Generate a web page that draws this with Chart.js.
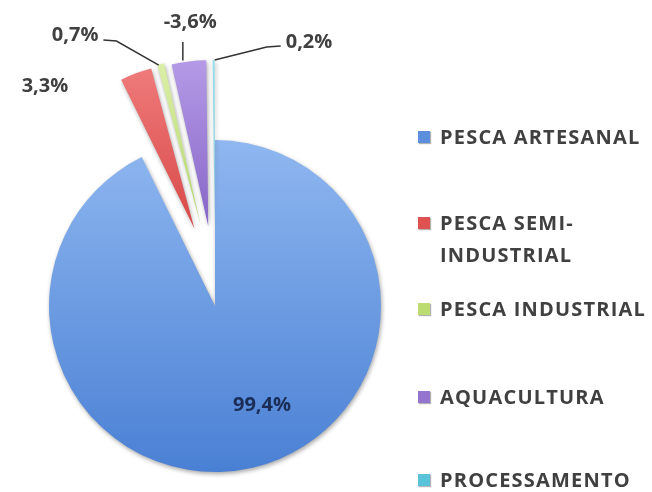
<!DOCTYPE html>
<html><head><meta charset="utf-8">
<script src="https://cdn.jsdelivr.net/npm/chart.js@4.4.1/dist/chart.umd.min.js"></script>
<style>
html,body{margin:0;padding:0;background:#fff;}
#wrap{position:relative;width:652px;height:492px;overflow:hidden;}
#c{position:absolute;left:0;top:0;}
#legend{position:absolute;left:418px;top:0;width:234px;font-family:'Open Sans',sans-serif;font-weight:bold;font-size:20px;color:#404040;}
.item{position:absolute;left:0;width:234px;}
.sw{position:absolute;left:0;width:12px;height:12px;box-shadow:1px 1px 1px rgba(0,0,0,0.3);}
.tx{position:absolute;left:22px;width:212px;line-height:32px;}
</style></head>
<body><div id="wrap"><canvas id="c" width="652" height="492"></canvas><div id="legend"></div></div>
<script>
const categories = ['PESCA ARTESANAL','PESCA SEMI-INDUSTRIAL','PESCA INDUSTRIAL','AQUACULTURA','PROCESSAMENTO'];
const shares = [99.4, 3.3, 0.7, -3.6, 0.2];
const explodeDistance = [0, 80, 82, 80, 80];
const sliceLight = ['#8fb7f0','#f07c7c','#dcf0a8','#b49ae6','#9ae0ee'];
const sliceDark = ['#4a80d4','#d84848','#b3d46c','#8766c8','#4fb8d2'];
const legendColors = ['#5b8fde','#e05252','#bcdc72','#9474cf','#5ac3da'];

const R = 166;
const EXPLODE_TURN = 0.72;

function fillFor(c) {
  const chart = c.chart, ca = chart.chartArea, i = c.dataIndex;
  if (!ca) return sliceDark[i];
  const cy = (ca.top + ca.bottom) / 2;
  const g = i === 0
    ? chart.ctx.createLinearGradient(0, cy - R, 0, cy + R)
    : chart.ctx.createLinearGradient(0, cy - R, 0, cy);
  g.addColorStop(0, sliceLight[i]);
  g.addColorStop(1, sliceDark[i]);
  return g;
}

function explodeVector(arc, i) {
  const mid = (arc.startAngle + arc.endAngle) / 2;
  let rel = mid + Math.PI / 2;
  while (rel > Math.PI) rel -= 2 * Math.PI;
  const dir = -Math.PI / 2 + rel * EXPLODE_TURN;
  const d = explodeDistance[i];
  return {dx: Math.cos(dir) * d, dy: Math.sin(dir) * d, mid};
}

const explodePlugin = {
  id: 'explode',
  beforeDatasetDraw(chart, args) {
    const ctx = chart.ctx;
    args.meta.data.forEach((arc, i) => {
      const v = explodeVector(arc, i);
      ctx.save();
      ctx.shadowColor = 'rgba(0,0,0,0.35)';
      ctx.shadowBlur = 4;
      ctx.shadowOffsetX = 1;
      ctx.shadowOffsetY = 2;
      ctx.translate(v.dx, v.dy);
      arc.draw(ctx);
      ctx.restore();
    });
    return false;
  }
};

// label anchors: angle from top (deg, clockwise) and distance as fraction of radius
const labelPlace = [[154.6, 0.66], [-37.7, 1.675], [-27.3, 1.837], [-5.0, 1.717], [19.6, 1.688]];

function fmt(v) { return v.toFixed(1).replace('.', ',') + '%'; }

const labelPlugin = {
  id: 'sliceLabels',
  afterDatasetsDraw(chart) {
    const ctx = chart.ctx;
    const meta = chart.getDatasetMeta(0);
    const cx = meta.data[0].x, cy = meta.data[0].y;
    const pos = labelPlace.map(([a, f]) => {
      const t = a * Math.PI / 180;
      return {x: cx + Math.sin(t) * f * R, y: cy - Math.cos(t) * f * R};
    });
    const outer = meta.data.map((arc, i) => {
      const v = explodeVector(arc, i);
      return {x: arc.x + v.dx + Math.cos(v.mid) * arc.outerRadius, y: arc.y + v.dy + Math.sin(v.mid) * arc.outerRadius};
    });
    ctx.save();
    ctx.font = 'bold 20px "Open Sans", sans-serif';
    ctx.textAlign = 'center';
    ctx.textBaseline = 'middle';
    shares.forEach((v, i) => {
      ctx.fillStyle = i === 0 ? '#1b2d57' : '#404040';
      ctx.fillText(fmt(v), pos[i].x, pos[i].y);
    });
    ctx.strokeStyle = '#333';
    ctx.lineWidth = 1.5;
    const w2 = ctx.measureText(fmt(shares[2])).width / 2;
    ctx.beginPath();
    ctx.moveTo(pos[2].x + w2 + 5, pos[2].y + 5);
    ctx.lineTo(pos[2].x + w2 + 18, pos[2].y + 6);
    ctx.lineTo(outer[2].x - 2, outer[2].y + 1);
    ctx.stroke();
    ctx.beginPath();
    ctx.moveTo(outer[3].x - 6, pos[3].y + 20);
    ctx.lineTo(outer[3].x - 6, outer[3].y - 1);
    ctx.stroke();
    const w4 = ctx.measureText(fmt(shares[4])).width / 2;
    ctx.beginPath();
    ctx.moveTo(pos[4].x - w4 - 5, pos[4].y + 4);
    ctx.lineTo(pos[4].x - w4 - 19, pos[4].y + 5);
    ctx.lineTo(outer[4].x + 1, outer[4].y);
    ctx.stroke();
    ctx.restore();
  }
};

new Chart(document.getElementById('c'), {
  type: 'pie',
  data: {
    labels: categories,
    datasets: [{
      data: shares,
      backgroundColor: fillFor,
      borderWidth: 0
    }]
  },
  options: {
    responsive: false,
    animation: false,
    radius: R,
    layout: {padding: {left: 0, right: 222, top: 120, bottom: 0}},
    plugins: {legend: {display: false}, tooltip: {enabled: false}}
  },
  plugins: [explodePlugin, labelPlugin]
});

// legend (first-line centres)
const legendCentres = [137, 223, 309, 397, 480];
const lg = document.getElementById('legend');
const mctx = document.createElement('canvas').getContext('2d');
mctx.font = 'bold 20px "Open Sans"';
const baseW = mctx.measureText('PESCA ARTESANAL').width;
const spacing = Math.min(1.2, Math.max(0, (201 - baseW) / 15));
categories.forEach((name, i) => {
  const it = document.createElement('div');
  it.className = 'item';
  it.style.top = (legendCentres[i] - 16) + 'px';
  const sw = document.createElement('div');
  sw.className = 'sw';
  sw.style.background = legendColors[i];
  sw.style.top = '10px';
  const tx = document.createElement('div');
  tx.className = 'tx';
  tx.style.letterSpacing = spacing + 'px';
  tx.textContent = name;
  it.appendChild(sw); it.appendChild(tx);
  lg.appendChild(it);
});
</script></body></html>
